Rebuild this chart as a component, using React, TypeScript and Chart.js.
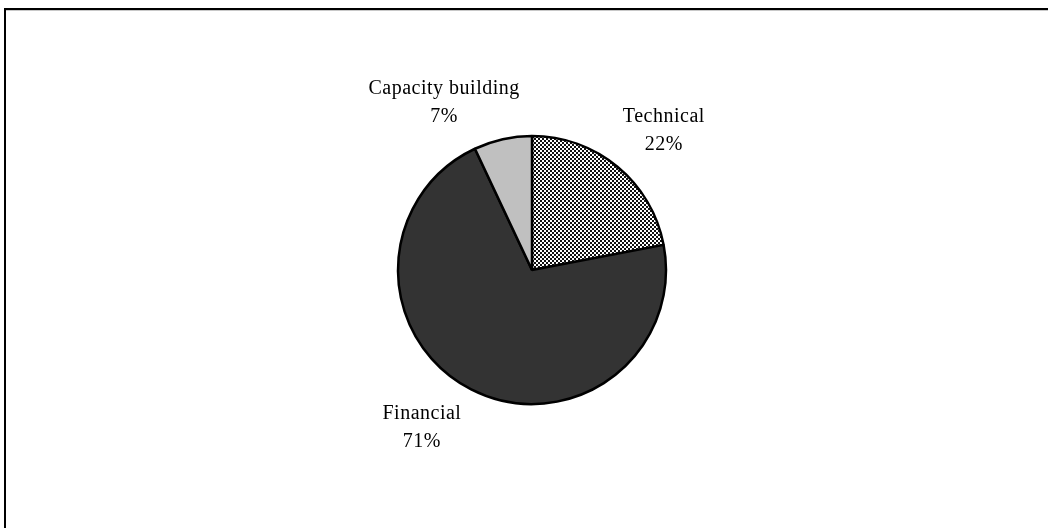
import React, { useEffect, useRef } from "react";
import { Chart, registerables } from "chart.js";

Chart.register(...registerables);

const categories = ["Technical", "Financial", "Capacity building"];
const shares = [22, 71, 7];
const percentLabels = ["22%", "71%", "7%"];

function makeCheckerPattern(ctx: CanvasRenderingContext2D) {
  const c = document.createElement("canvas");
  c.width = 4;
  c.height = 4;
  const x = c.getContext("2d")!;
  x.fillStyle = "#ffffff";
  x.fillRect(0, 0, 4, 4);
  x.fillStyle = "#111111";
  x.fillRect(0, 0, 2, 2);
  x.fillRect(2, 2, 2, 2);
  return ctx.createPattern(c, "repeat")!;
}

// per-label angular nudges (degrees) and distance factor, mimicking best-fit label placement
const labelNudgeDeg = [3.5, 8.2, -14.9];
const labelDistFactor = [1.44, 1.425, 1.42];

const framePlugin = {
  id: "frame",
  beforeDraw(chart: any) {
    const ctx = chart.ctx as CanvasRenderingContext2D;
    ctx.save();
    ctx.fillStyle = "#ffffff";
    ctx.fillRect(0, 0, chart.width, chart.height);
    ctx.fillStyle = "#000000";
    ctx.fillRect(4, 8, chart.width, 2);
    ctx.fillRect(4, 8, 2, chart.height);
    ctx.fillStyle = "#c8c8c8";
    ctx.fillRect(6, 10, chart.width, 1);
    ctx.restore();
  },
};

const labelPlugin = {
  id: "pieLabels",
  afterDatasetsDraw(chart: any) {
    const ctx = chart.ctx as CanvasRenderingContext2D;
    const meta = chart.getDatasetMeta(0);
    ctx.save();
    ctx.font = "20px 'Liberation Serif', 'Times New Roman', serif";
    (ctx as any).letterSpacing = "0.5px";
    ctx.fillStyle = "#000000";
    ctx.textAlign = "center";
    ctx.textBaseline = "alphabetic";
    meta.data.forEach((arc: any, i: number) => {
      const p = arc.getProps(["x", "y", "startAngle", "endAngle", "outerRadius"], true);
      const mid = (p.startAngle + p.endAngle) / 2 + (labelNudgeDeg[i] * Math.PI) / 180;
      const d = p.outerRadius * labelDistFactor[i];
      const cx = p.x + Math.cos(mid) * d;
      const cy = p.y + Math.sin(mid) * d;
      ctx.fillText(categories[i], cx, cy - 7);
      ctx.fillText(percentLabels[i], cx, cy + 21);
    });
    ctx.restore();
  },
};

export default function App() {
  const ref = useRef<HTMLCanvasElement | null>(null);

  useEffect(() => {
    const canvas = ref.current!;
    const ctx = canvas.getContext("2d")!;
    const pattern = makeCheckerPattern(ctx);
    const chart = new Chart(canvas, {
      type: "pie",
      data: {
        labels: categories,
        datasets: [
          {
            data: shares,
            backgroundColor: [pattern as any, "#333333", "#c0c0c0"],
            borderColor: "#000000",
            borderWidth: 2.5,
          },
        ],
      },
      options: {
        responsive: false,
        animation: false,
        radius: 134,
        layout: { padding: { left: 300, right: 284, top: 130, bottom: 118 } },
        plugins: {
          legend: { display: false },
          tooltip: { enabled: false },
        },
      },
      plugins: [framePlugin, labelPlugin],
    });
    return () => chart.destroy();
  }, []);

  return (
    <div style={{ position: "fixed", left: 0, top: 0, width: 1048, height: 528, background: "#fff" }}>
      <canvas ref={ref} width={1048} height={528} style={{ display: "block" }} />
    </div>
  );
}
